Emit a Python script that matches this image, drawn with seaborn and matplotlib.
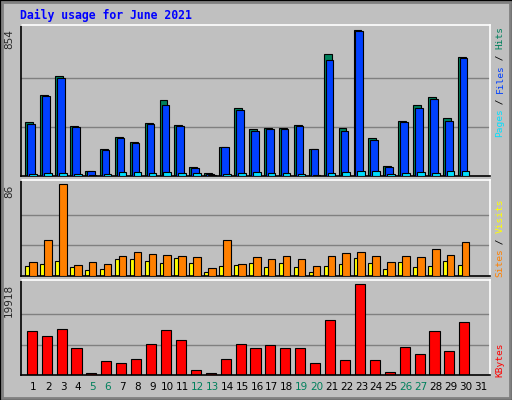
import numpy as np
import matplotlib
matplotlib.use("Agg")
import matplotlib.pyplot as plt
import seaborn as sb
from matplotlib.patches import Rectangle

days = list(range(1, 32))
weekend = [5, 6, 12, 13, 19, 20, 26, 27]

# values (day 31 has no data)
hits = [312, 469, 585, 289, 27, 155, 225, 196, 306, 445, 294, 50, 15, 167, 393, 271, 277, 277, 294, 155, 713, 277, 852, 219, 56, 323, 416, 457, 335, 695]
files = [300, 463, 573, 283, 27, 149, 219, 190, 300, 416, 289, 45, 12, 166, 387, 260, 271, 271, 289, 155, 678, 260, 846, 207, 50, 312, 393, 451, 318, 684]
pages = [12, 19, 17, 12, 4, 12, 21, 21, 17, 21, 19, 19, 4, 14, 17, 21, 17, 17, 14, 4, 17, 21, 29, 29, 12, 17, 21, 15, 29, 29]
visits = [9.4, 11.3, 14.1, 8.1, 5.6, 6.6, 15.9, 15.9, 14.1, 12.2, 16.9, 12.2, 3.8, 9.4, 10.3, 12.2, 8.4, 12.2, 8.4, 3.8, 9.4, 11.3, 16.9, 12.2, 6.6, 13.1, 8.4, 9.4, 14.1, 10.3]
sites = [13.1, 33.8, 86.0, 10.3, 13.1, 11.3, 18.8, 22.5, 20.6, 19.7, 18.8, 17.8, 7.5, 33.8, 11.3, 17.8, 15.9, 18.8, 15.9, 9.4, 18.8, 21.6, 22.5, 18.8, 13.1, 18.8, 17.8, 25.3, 19.7, 31.9]
kbytes = [9523, 8432, 9960, 5816, 509, 3126, 2690, 3563, 6834, 9742, 7561, 1163, 509, 3563, 6834, 5962, 6616, 5962, 5962, 2690, 12140, 3345, 19918, 3345, 727, 6180, 4654, 9523, 5307, 11704]

sb.set_style("white")
plt.rcParams['font.family'] = ['DejaVu Sans']
bg = "#c0c0c0"
W, H = 512, 400
fig = plt.figure(figsize=(5.12, 4.0), dpi=100, facecolor=bg)

def px_axes(x0, y0, x1, y1):
    return fig.add_axes([x0 / W, 1 - y1 / H, (x1 - x0) / W, (y1 - y0) / H])

# bevel frame
fig.patches.append(Rectangle((0, 0), 1, 1, transform=fig.transFigure, fill=False, ec="black", lw=2))
fig.patches.append(Rectangle((2 / W, 2 / H), 1 - 4 / W, 1 - 4 / H, transform=fig.transFigure, fill=False, ec="#808080", lw=2))
fig.text(20 / W, 1 - 15 / H, "Daily usage for June 2021", color="#0000ff", fontsize=8.3,
         family="DejaVu Sans Mono", weight="bold", va="center")

ax1 = px_axes(21, 25, 490, 176)
ax2 = px_axes(21, 180, 490, 276)
ax3 = px_axes(21, 280, 490, 375)

d = np.array(days[:30])
for ax, top, ymax in [(ax1, 854, 879), (ax2, 86, 90), (ax3, 19918, 20790)]:
    ax.set_facecolor(bg)
    ax.set_xlim(0.18, 31.62)
    ax.set_ylim(0, ymax)
    for g in (top / 3, 2 * top / 3):
        ax.axhline(g, color="#808080", lw=1, zorder=0)
    ax.set_xticks([])
    ax.set_yticks([])
    ax.spines['left'].set_color('black')
    ax.spines['bottom'].set_color('black')
    ax.spines['top'].set_color('white')
    ax.spines['right'].set_color('white')
    for s in ax.spines.values():
        s.set_linewidth(1.2)
    ax.text(-0.015, top, str(top), transform=ax.get_yaxis_transform(), rotation=90,
            ha="right", va="top", fontsize=7.5)

# top panel
ax1.bar(d - 0.53, hits, width=0.53, align="edge", color="#00805c", ec="black", lw=0.8, zorder=2)
ax1.bar(d - 0.40, files, width=0.51, align="edge", color="#0040ff", ec="black", lw=0.8, zorder=3)
ax1.bar(d - 0.27, pages, width=0.51, align="edge", color="#00e0ff", ec="black", lw=0.8, zorder=4)
# middle panel
ax2.bar(d - 0.53, visits, width=0.31, align="edge", color="#ffff00", ec="black", lw=0.8, zorder=2)
ax2.bar(d - 0.27, sites, width=0.51, align="edge", color="#ff8000", ec="black", lw=0.8, zorder=3)
# bottom panel
ax3.bar(d - 0.44, kbytes, width=0.68, align="edge", color="#ff0000", ec="black", lw=0.8, zorder=2)

# right side labels
def side_label(parts, y_bottom):
    y = y_bottom
    for txt, col in parts:
        fig.text(500 / W, 1 - y / H, txt, color=col, rotation=90, fontsize=6.8,
                 family="DejaVu Sans Mono", ha="center", va="bottom")
        y -= 5.5 * len(txt)

side_label([("Pages", "#00e0ff"), (" / ", "#000000"), ("Files", "#0040ff"), (" / ", "#000000"), ("Hits", "#00805c")], 137)
side_label([("Sites", "#ff8000"), (" / ", "#000000"), ("Visits", "#ffff00")], 277)
side_label([("KBytes", "#ff0000")], 377)

# day labels
for day in days:
    ax3.text(day, -0.13, str(day), transform=ax3.get_xaxis_transform(), ha="center", va="center",
             fontsize=7.5, color="#00805c" if day in weekend else "black")

fig.savefig("out.png", dpi=100, facecolor=bg)
